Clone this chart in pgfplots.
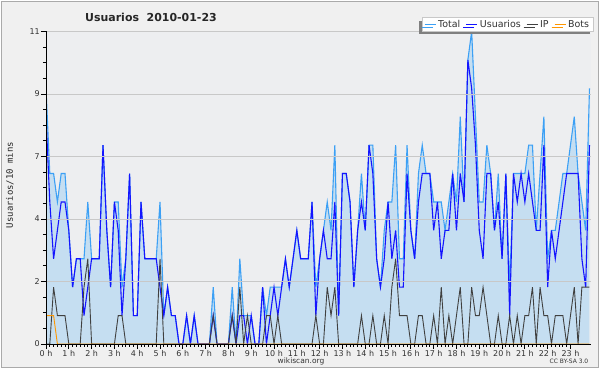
\documentclass[border=0pt]{standalone}
\usepackage{fontspec}
\setmainfont{DejaVu Sans}
\newfontfamily\monofont{DejaVu Sans Mono}
\usepackage{pgfplots}
\pgfplotsset{compat=1.18}
\usepackage{pgfplotstable}
\usetikzlibrary{shadows}
\definecolor{outerbg}{RGB}{240,240,240}
\definecolor{plotbg}{RGB}{237,238,240}
\definecolor{fillblue}{RGB}{197,222,241}
\definecolor{totalc}{RGB}{60,160,245}
\definecolor{userc}{RGB}{20,20,255}
\definecolor{ipc}{RGB}{64,64,64}
\definecolor{botc}{RGB}{255,150,0}
\definecolor{gridc}{RGB}{200,200,200}
\definecolor{framec}{RGB}{170,170,170}
\definecolor{textc}{RGB}{50,50,50}

\pgfplotstableread{
i T U IP B
0 9 8 0 1
1 6 5 0 1
2 6 3 2 1
3 5 4 1 0
4 6 5 1 0
5 6 5 1 0
6 4 4 0 0
7 2 2 0 0
8 3 3 0 0
9 3 3 0 0
10 3 1 2 0
11 5 2 3 0
12 3 3 0 0
13 3 3 0 0
14 3 3 0 0
15 7 7 0 0
16 4 4 0 0
17 2 2 0 0
18 5 5 0 0
19 5 4 1 0
20 2 1 1 0
21 3 3 0 0
22 6 6 0 0
23 1 1 0 0
24 1 1 0 0
25 5 5 0 0
26 3 3 0 0
27 3 3 0 0
28 3 3 0 0
29 3 3 0 0
30 5 2 3 0
31 1 1 0 0
32 2 2 0 0
33 1 1 0 0
34 1 1 0 0
35 0 0 0 0
36 0 0 0 0
37 1 1 0 0
38 0 0 0 0
39 1 1 0 0
40 0 0 0 0
41 0 0 0 0
42 0 0 0 0
43 0 0 0 0
44 2 1 1 0
45 0 0 0 0
46 0 0 0 0
47 0 0 0 0
48 0 0 0 0
49 2 1 1 0
50 0 0 0 0
51 3 1 2 0
52 1 1 0 0
53 1 0 1 0
54 1 1 0 0
55 0 0 0 0
56 0 0 0 0
57 2 2 0 0
58 1 0 1 0
59 2 1 1 0
60 2 2 0 0
61 2 1 1 0
62 2 2 0 0
63 3 3 0 0
64 2 2 0 0
65 3 3 0 0
66 4 4 0 0
67 3 3 0 0
68 3 3 0 0
69 3 3 0 0
70 5 5 0 0
71 2 1 1 0
72 3 3 0 0
73 4 4 0 0
74 5 3 2 0
75 4 3 1 0
76 7 5 2 0
77 1 1 0 0
78 6 6 0 0
79 6 6 0 0
80 5 5 0 0
81 2 2 0 0
82 4 4 0 0
83 6 5 1 0
84 4 4 0 0
85 7 7 0 0
86 7 6 1 0
87 3 3 0 0
88 2 2 0 0
89 4 3 1 0
90 5 5 0 0
91 5 3 2 0
92 7 4 3 0
93 3 2 1 0
94 3 2 1 0
95 7 6 1 0
96 4 4 0 0
97 3 3 0 0
98 6 5 1 0
99 7 6 1 0
100 6 6 0 0
101 6 6 0 0
102 5 4 1 0
103 5 5 0 0
104 5 3 2 0
105 4 4 0 0
106 5 4 1 0
107 6 6 0 0
108 5 4 1 0
109 8 6 2 0
110 5 5 0 0
111 10 10 0 0
112 11 9 2 0
113 8 7 1 0
114 5 4 1 0
115 5 3 2 0
116 7 6 1 0
117 6 6 0 0
118 4 4 0 0
119 6 5 1 0
120 3 3 0 0
121 6 6 0 0
122 2 1 1 0
123 6 6 0 0
124 6 5 1 0
125 6 6 0 0
126 6 5 1 0
127 7 6 1 0
128 7 5 2 0
129 4 4 0 0
130 6 4 2 0
131 8 7 1 0
132 3 2 1 0
133 4 4 0 0
134 4 3 1 0
135 5 4 1 0
136 6 5 1 0
137 6 6 0 0
138 7 6 1 0
139 8 6 2 0
140 6 6 0 0
141 5 3 2 0
142 4 2 2 0
143 9 7 2 0
}\data

\begin{document}
\begin{tikzpicture}
\useasboundingbox (0,0) rectangle (600bp,370bp);
\fill[white] (0,0) rectangle (600bp,370bp);
\filldraw[fill=outerbg, draw=framec, line width=1bp] (1.5bp,2bp) rectangle (598bp,368.5bp);
\begin{axis}[
  at={(46bp,26bp)}, anchor=south west,
  scale only axis, width=545bp, height=312.5bp,
  xmin=0, xmax=143.4, ymin=0, ymax=11,
  axis background/.style={fill=plotbg},
  axis lines*=left,
  axis on top,
  axis line style={black, line width=1bp},
  ymajorgrids, grid style={gridc, line width=0.8bp},
  tick align=outside,
  major tick length=5bp, minor tick length=3bp,
  tick style={black, line width=0.8bp},
  xtick={0,6,...,138},
  xticklabels={0 h,1 h,2 h,3 h,4 h,5 h,6 h,7 h,8 h,9 h,10 h,11 h,12 h,13 h,14 h,15 h,16 h,17 h,18 h,19 h,20 h,21 h,22 h,23 h},
  minor x tick num=5,
  ytick={0,2.2,4.4,6.6,8.8,11},
  yticklabels={0,2,4,7,9,11},
  minor y tick num=3,
  tick label style={font=\fontsize{8}{9}\selectfont, text=textc},
  xticklabel style={inner sep=1bp},
  yticklabel style={inner sep=1bp},
  legend columns=4,
  legend cell align=left,
  legend style={at={(1.004,1.0)}, anchor=south east, draw=gridc, fill=white,
    font=\fontsize{9.5}{10}\selectfont, text=textc, inner xsep=2bp, inner ysep=0.5bp,
    drop shadow={shadow xshift=-3bp, shadow yshift=-3bp, fill=black!50, opacity=1},
    /tikz/every even column/.append style={column sep=3.5bp}},
  legend image code/.code={\draw[#1] (0bp,0bp) -- (11bp,0bp);},
]
\addplot[fill=fillblue, draw=none, forget plot] table[x=i,y=T]{\data} \closedcycle;
\addplot[totalc, line width=1.1bp] table[x=i,y=T]{\data};
\addplot[userc, line width=1.1bp] table[x=i,y=U]{\data};
\addplot[ipc, line width=0.9bp] table[x=i,y=IP]{\data};
\addplot[botc, line width=0.9bp] table[x=i,y=B]{\data};
\legend{Total,Usuarios,IP,Bots}
\end{axis}
\node[font=\bfseries\fontsize{11}{12}\selectfont, text=black!85] at (151bp,353bp) {Usuarios\ \ 2010-01-23};
\node[rotate=90, font=\monofont\fontsize{9}{10}\selectfont, text=black!85] at (10bp,185bp) {Usuarios/10 mins};
\node[font=\fontsize{7.5}{8}\selectfont, text=textc] at (301bp,8.5bp) {wikiscan.org};
\node[font=\fontsize{6}{7}\selectfont, text=textc] at (569bp,8.5bp) {CC BY-SA 3.0};
\end{tikzpicture}
\end{document}
